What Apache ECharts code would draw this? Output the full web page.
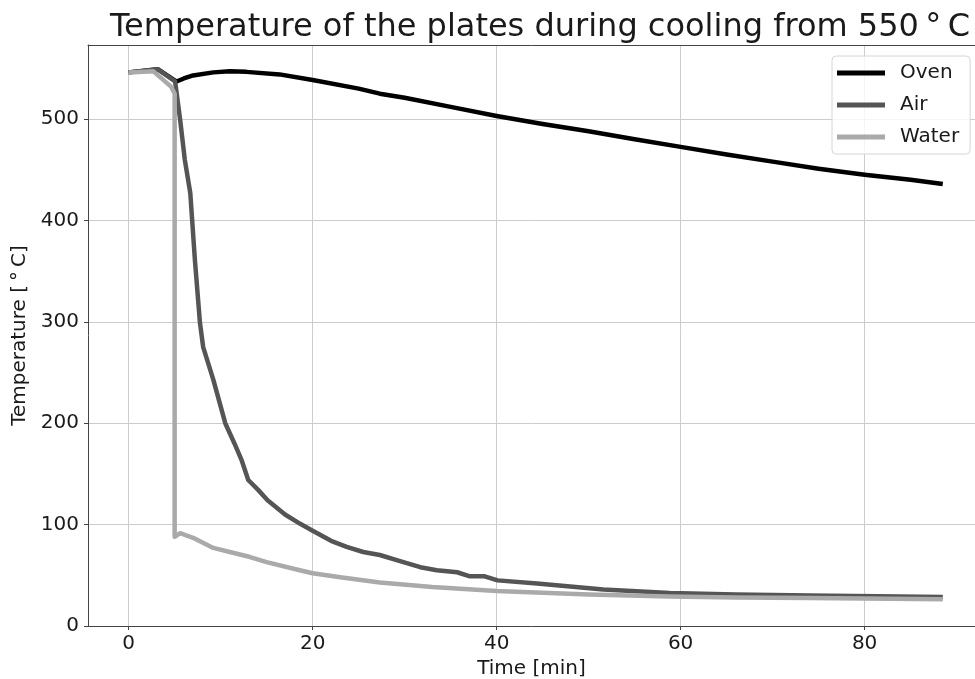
<!DOCTYPE html>
<html>
<head>
<meta charset="utf-8">
<script src="https://cdn.jsdelivr.net/npm/echarts@6/dist/echarts.min.js"></script>
<style>
  html, body { margin: 0; padding: 0; background: #fff; }
  #container { width: 975px; height: 679px; }
</style>
</head>
<body>
<div id="container"></div>
<script>
var seriesNames = ['Oven', 'Air', 'Water'];
var seriesColors = ['#000000', '#555555', '#aaaaaa'];

var ovenTime = [0, 3.2, 5.2, 6, 7, 9.2, 11, 12.8, 16.4, 20, 25, 27.3, 30, 35, 40, 45, 50, 55, 60, 65, 70, 75, 80, 85, 88.5];
var ovenTemp = [546, 549, 537, 540, 543, 546, 547, 546.5, 544, 538.5, 530, 525, 521, 512, 503, 495, 488, 480, 472.5, 465, 458, 451, 445, 440, 436];

var airTime = [0, 3.2, 5.05, 5.6, 6.1, 6.7, 7.2, 7.75, 8.1, 9.2, 10.5, 11.5, 12.3, 13, 14.1, 15.1, 17, 18.6, 20, 22, 23.7, 25.5, 27.3, 29.5, 31.7, 33.5, 35.7, 37.1, 38.7, 40.1, 44.4, 51.6, 58.8, 66, 74, 88.5];
var airTemp = [546, 549, 537, 499, 460, 427, 361, 299, 275, 243, 200, 180, 163, 144, 134, 124, 110, 101, 94, 84, 78, 73, 70, 64, 58, 55, 53, 49, 49, 45, 42, 36, 32.5, 31, 30, 28.5];

var waterTime = [0, 2.7, 4.6, 5.0, 5.0, 5.6, 7, 9.2, 11, 13.2, 15, 18.6, 20, 23, 27.3, 33, 40, 50, 58.8, 66, 74, 88.5];
var waterTemp = [546, 547, 532, 525, 88, 91.5, 87, 77, 73, 68, 63, 55, 52, 48, 43, 38.5, 34.5, 31, 29, 28, 27.5, 26.5];

var xTicks = [0, 20, 40, 60, 80];

function pairs(t, v) {
    return t.map(function (x, i) { return [x, v[i]]; });
}

var dom = document.getElementById('container');
var myChart = echarts.init(dom, null, { renderer: 'canvas' });
var font = 'DejaVu Sans';
var textColor = '#1a1a1a';
var seriesData = [pairs(ovenTime, ovenTemp), pairs(airTime, airTemp), pairs(waterTime, waterTemp)];

var option = {
    backgroundColor: '#ffffff',
    animation: false,
    title: {
        text: 'Temperature of the plates during cooling from 550\u2009°\u2009C',
        left: 535,
        textAlign: 'center',
        top: 7,
        textStyle: {
            fontFamily: font,
            fontSize: 32,
            fontWeight: 'normal',
            color: textColor
        }
    },
    legend: {
        orient: 'vertical',
        left: 832,
        top: 56,
        width: 139,
        padding: [7, 11, 7, 5],
        itemGap: 12,
        itemWidth: 48,
        itemHeight: 5,
        icon: 'rect',
        backgroundColor: 'rgba(255,255,255,0.8)',
        borderColor: '#d6d6d6',
        borderWidth: 1,
        borderRadius: 4,
        textStyle: {
            fontFamily: font,
            fontSize: 20,
            color: textColor,
            padding: [0, 0, 0, 10]
        },
        data: seriesNames
    },
    grid: {
        left: 88,
        right: 0,
        top: 45,
        bottom: 53,
        containLabel: false,
        outerBoundsMode: 'none'
    },
    xAxis: [{
        type: 'value',
        min: -4.42,
        max: 92,
        name: 'Time [min]',
        nameLocation: 'middle',
        nameGap: 30,
        nameTextStyle: { fontFamily: font, fontSize: 20, color: textColor },
        axisLine: { show: true, onZero: false, lineStyle: { color: '#444', width: 1 } },
        axisTick: { show: true, length: 4, customValues: xTicks, lineStyle: { color: '#444' } },
        axisLabel: {
            customValues: xTicks,
            margin: 8,
            fontFamily: font,
            fontSize: 20,
            color: textColor
        },
        splitLine: { show: true, lineStyle: { color: '#cccccc', width: 1 } }
    }, {
        type: 'value',
        position: 'top',
        min: -4.42,
        max: 92,
        axisLine: { show: true, onZero: false, lineStyle: { color: '#444', width: 1 } },
        axisTick: { show: false },
        axisLabel: { show: false },
        splitLine: { show: false }
    }],
    yAxis: {
        type: 'value',
        min: 0,
        max: 573,
        interval: 100,
        name: 'Temperature [\u2009°\u2009C]',
        nameLocation: 'middle',
        nameGap: 53,
        nameTextStyle: { fontFamily: font, fontSize: 20, color: textColor },
        axisLine: { show: true, onZero: false, lineStyle: { color: '#444', width: 1 } },
        axisTick: { show: true, length: 4, lineStyle: { color: '#444' } },
        axisLabel: {
            margin: 9,
            showMaxLabel: false,
            fontFamily: font,
            fontSize: 20,
            color: textColor
        },
        splitLine: { show: true, lineStyle: { color: '#cccccc', width: 1 } }
    },
    series: seriesNames.map(function (name, i) {
        return {
            name: name,
            type: 'line',
            xAxisIndex: 0,
            data: seriesData[i],
            symbol: 'none',
            showSymbol: false,
            color: seriesColors[i],
            lineStyle: { color: seriesColors[i], width: 4.5, join: 'round' },
            z: 2 + i
        };
    })
};

myChart.setOption(option, true);
</script>
</body>
</html>
